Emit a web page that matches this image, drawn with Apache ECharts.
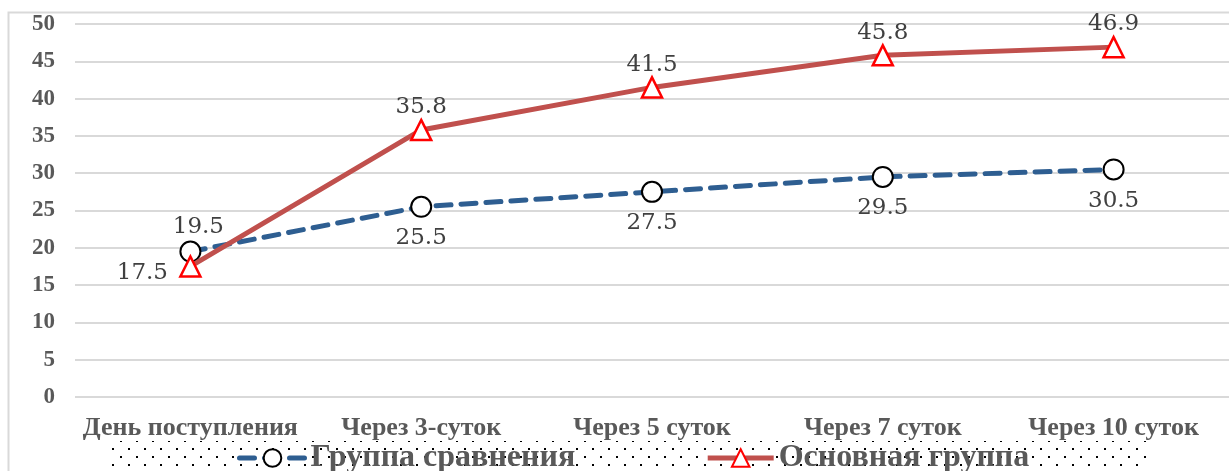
<!DOCTYPE html>
<html>
<head>
<meta charset="utf-8">
<script src="https://cdn.jsdelivr.net/npm/echarts@6/dist/echarts.min.js"></script>
<style>
  html, body { margin: 0; padding: 0; background: #fff; }
  #chart { width: 1229px; height: 471px; }
</style>
</head>
<body>
<div id="chart"></div>
<script>
// данные графика
const categories = ['День поступления', 'Через 3-суток', 'Через 5 суток', 'Через 7 суток', 'Через 10 суток']
const comparisonGroup = [19.5, 25.5, 27.5, 29.5, 30.5]
const mainGroup = [17.5, 35.8, 41.5, 45.8, 46.9]
const seriesNames = ['Группа сравнения', 'Основная группа']

const serif = '"Liberation Serif", "DejaVu Serif", serif'
const wideSerif = '"DejaVu Serif", "Liberation Serif", serif'

// точечный фон под легендой
function dotPattern() {
  const c = document.createElement('canvas')
  c.width = 16
  c.height = 16
  const ctx = c.getContext('2d')
  ctx.fillStyle = '#000'
  ctx.fillRect(0, 0, 2, 2)
  ctx.fillRect(8, 8, 2, 2)
  return c
}

const chart = echarts.init(document.getElementById('chart'))

const option = {
  animation: false,
  backgroundColor: '#fff',
  graphic: [
    {
      type: 'rect', z: -10,
      shape: { x: 8.5, y: 12.5, width: 1300, height: 500 },
      style: { fill: 'none', stroke: '#d9d9d9', lineWidth: 2 }
    },
    {
      type: 'rect', z: -5,
      shape: { x: 110, y: 441, width: 1036, height: 30 },
      style: { fill: { image: dotPattern(), repeat: 'repeat' } }
    }
  ],
  grid: { left: 75, right: 0, top: 24, bottom: 74 },
  legend: {
    top: 437,
    left: 232,
    itemGap: 130,
    itemWidth: 66,
    itemHeight: 22,
    lineStyle: { width: 5 },
    textStyle: { fontFamily: serif, fontSize: 32, fontWeight: 'bold', color: '#595959' },
    data: seriesNames
  },
  xAxis: {
    type: 'category',
    data: categories,
    axisLine: { show: false },
    axisTick: { show: false },
    axisLabel: {
      interval: 0,
      margin: 18, fontFamily: serif, fontSize: 26, fontWeight: 'bold', color: '#595959'
    }
  },
  yAxis: {
    type: 'value',
    min: 0, max: 50, interval: 5,
    axisLabel: {
      margin: 20, fontFamily: serif, fontSize: 23, fontWeight: 'bold', color: '#595959'
    },
    splitLine: { lineStyle: { color: '#d9d9d9', width: 2 } }
  },
  series: [
    {
      name: seriesNames[0],
      type: 'line',
      data: comparisonGroup,
      symbol: 'emptyCircle',
      symbolSize: 20,
      z: 3,
      lineStyle: { color: '#2e5e91', width: 5, type: [15, 10], cap: 'round' },
      itemStyle: { color: '#000', borderColor: '#000', borderWidth: 3.5 },
      label: {
        show: true,
        position: 'bottom',
        distance: 9,
        fontFamily: wideSerif, fontSize: 23, color: '#404040',
        formatter: p => p.value.toFixed(1)
      },
      labelLayout: p => p.dataIndex === 0 ? { dx: 8, dy: -56 } : {}
    },
    {
      name: seriesNames[1],
      type: 'line',
      data: mainGroup,
      symbol: 'triangle',
      symbolSize: 20,
      z: 4,
      lineStyle: { color: '#c0504d', width: 5 },
      itemStyle: { color: '#fff', borderColor: '#ff0000', borderWidth: 2.5 },
      label: {
        show: true,
        position: 'top',
        distance: 0,
        fontFamily: wideSerif, fontSize: 23, color: '#404040',
        formatter: p => p.value.toFixed(1)
      },
      labelLayout: p => p.dataIndex === 0 ? { dx: -48, dy: 29 } : {}
    }
  ]
}

chart.setOption(option)
</script>
</body>
</html>
